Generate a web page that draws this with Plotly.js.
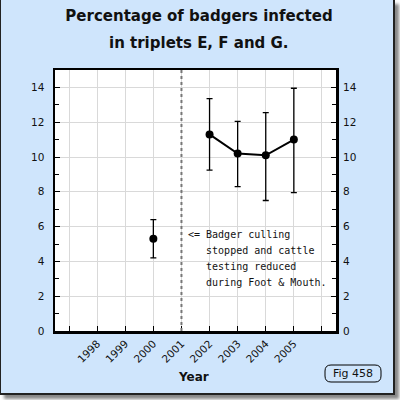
<!DOCTYPE html>
<html><head><meta charset="utf-8">
<script src="https://cdn.plot.ly/plotly-3.0.1.min.js"></script>
<style>
html,body{margin:0;padding:0;background:#fff;}
#frame{position:absolute;left:0;top:0;width:392px;height:393px;background:#cfe5fc;border-left:1px solid #222;border-right:2px solid #222;border-bottom:2px solid #222;box-shadow:4px 4px 3px #888;}
#chart{position:absolute;left:0;top:0;width:400px;height:400px;}
</style></head><body>
<div id="frame"></div><div id="chart"></div>
<script>
// data (null at 2001 breaks the line)
const years    = [2000, 2001, 2002, 2003, 2004, 2005];
const infected = [5.3, null, 11.3, 10.2, 10.1, 11.0];
const upperCI  = [6.4, null, 13.35, 12.05, 12.55, 13.95];
const lowerCI  = [4.2, null, 9.25, 8.3, 7.5, 7.95];
const tickYears  = [1997, 1998, 1999, 2000, 2001, 2002, 2003, 2004, 2005, 2006];
const tickLabels = ['', '1998', '1999', '2000', '2001', '2002', '2003', '2004', '2005', ''];
const yTicks      = [0, 2, 4, 6, 8, 10, 12, 14];
const yMinorTicks = [1, 3, 5, 7, 9, 11, 13];
const eventYear = 2001;
const noteLines = ['<= Badger culling', '   stopped and cattle', '   testing reduced', '   during Foot & Mouth.'];
const titleLines = ['Percentage of badgers infected', 'in triplets E, F and G.'];
const figLabel = 'Fig 458';

const errPlus  = infected.map((v, i) => v == null ? null : upperCI[i] - v);
const errMinus = infected.map((v, i) => v == null ? null : v - lowerCI[i]);

// pixel -> paper helpers (plot area 55..336 x 70..331)
const L = 55, T = 70, W = 281, H = 261;
const px = x => (x - L) / W;
const py = y => (T + H - y) / H;

const tickFont = {family: 'DejaVu Sans', size: 10.5, color: '#111'};

const traces = [
  {
    x: years, y: infected, type: 'scatter', mode: 'lines+markers',
    connectgaps: false,
    line: {color: '#000', width: 2},
    marker: {color: '#000', size: 8},
    error_y: {type: 'data', symmetric: false, array: errPlus, arrayminus: errMinus,
              color: '#000', thickness: 1.3, width: 3},
    hoverinfo: 'x+y', showlegend: false
  },
  {
    x: [tickYears[0]], y: [yTicks[0]], yaxis: 'y2', type: 'scatter', mode: 'markers',
    marker: {opacity: 0}, hoverinfo: 'skip', showlegend: false
  }
];

const noteAnns = noteLines.map((t, i) => ({
  text: t.replace(/ /g, '\u00a0'), x: 2001.15, y: 5.52 - i * 0.915, xref: 'x', yref: 'y',
  xanchor: 'left', yanchor: 'middle', showarrow: false,
  font: {family: 'DejaVu Sans Mono', size: 10, color: '#111'}
}));

// rounded box around fig label
const bx0 = 325, bx1 = 381, by0 = 365, by1 = 382, r = 6;
const boxPath = 'M' + px(bx0 + r) + ',' + py(by0) +
  ' L' + px(bx1 - r) + ',' + py(by0) +
  ' Q' + px(bx1) + ',' + py(by0) + ' ' + px(bx1) + ',' + py(by0 + r) +
  ' L' + px(bx1) + ',' + py(by1 - r) +
  ' Q' + px(bx1) + ',' + py(by1) + ' ' + px(bx1 - r) + ',' + py(by1) +
  ' L' + px(bx0 + r) + ',' + py(by1) +
  ' Q' + px(bx0) + ',' + py(by1) + ' ' + px(bx0) + ',' + py(by1 - r) +
  ' L' + px(bx0) + ',' + py(by0 + r) +
  ' Q' + px(bx0) + ',' + py(by0) + ' ' + px(bx0 + r) + ',' + py(by0) + ' Z';

const layout = {
  width: 400, height: 400,
  margin: {l: L, r: 400 - L - W, t: T, b: 400 - T - H, pad: 0},
  paper_bgcolor: 'rgba(0,0,0,0)', plot_bgcolor: '#fff',
  title: {text: titleLines[0], x: 0.4975, xanchor: 'center', y: 1 - 16 / 400, yanchor: 'middle',
          yref: 'container', font: {family: 'DejaVu Sans', size: 15, color: '#111', weight: 'bold'}},
  xaxis: {
    range: [1996.5, 2006.5], tickmode: 'array', tickvals: tickYears, ticktext: tickLabels,
    tickangle: -45, ticks: 'inside', ticklen: 5, tickwidth: 1, tickcolor: '#000',
    showgrid: true, gridcolor: '#d9d9d9', gridwidth: 1, zeroline: false,
    showline: true, linecolor: '#000', linewidth: 2.5, mirror: true,
    tickfont: tickFont, fixedrange: true
  },
  yaxis: {
    range: [0, 15], tickmode: 'array', tickvals: yTicks,
    ticks: 'inside', ticklen: 5, tickwidth: 1, tickcolor: '#000',
    minor: {tickmode: 'array', tickvals: yMinorTicks, ticks: 'inside', ticklen: 4, tickcolor: '#000', showgrid: false},
    showgrid: true, gridcolor: '#d9d9d9', gridwidth: 1, zeroline: false,
    showline: true, linecolor: '#000', linewidth: 2.5, mirror: true,
    tickfont: tickFont, ticklabelstandoff: 6, fixedrange: true
  },
  yaxis2: {
    overlaying: 'y', side: 'right', range: [0, 15], tickmode: 'array', tickvals: yTicks,
    ticks: 'inside', ticklen: 5, tickwidth: 1, tickcolor: '#000',
    minor: {tickmode: 'array', tickvals: yMinorTicks, ticks: 'inside', ticklen: 4, tickcolor: '#000', showgrid: false},
    showgrid: false, zeroline: false, showline: false,
    tickfont: tickFont, ticklabelstandoff: 6, fixedrange: true
  },
  shapes: [
    {type: 'line', xref: 'x', yref: 'paper', x0: eventYear, x1: eventYear, y0: 0, y1: 1,
     line: {color: '#777', width: 2, dash: 'dot'}},
    {type: 'path', xref: 'paper', yref: 'paper', path: boxPath, line: {color: '#000', width: 1}}
  ],
  annotations: [
    {text: titleLines[1], xref: 'paper', yref: 'paper', x: px(199), y: py(43),
     xanchor: 'center', yanchor: 'middle', showarrow: false,
     font: {family: 'DejaVu Sans', size: 15, color: '#111', weight: 'bold'}},
    {text: 'Year', xref: 'paper', yref: 'paper', x: px(193), y: py(377),
     xanchor: 'center', yanchor: 'middle', showarrow: false,
     font: {family: 'DejaVu Sans', size: 12, color: '#111', weight: 'bold'}},
    {text: figLabel, xref: 'paper', yref: 'paper', x: px(353), y: py(373.5),
     xanchor: 'center', yanchor: 'middle', showarrow: false,
     font: {family: 'DejaVu Sans', size: 11, color: '#111'}}
  ].concat(noteAnns)
};

Plotly.newPlot('chart', traces, layout, {staticPlot: true, displayModeBar: false});
</script>
</body></html>
